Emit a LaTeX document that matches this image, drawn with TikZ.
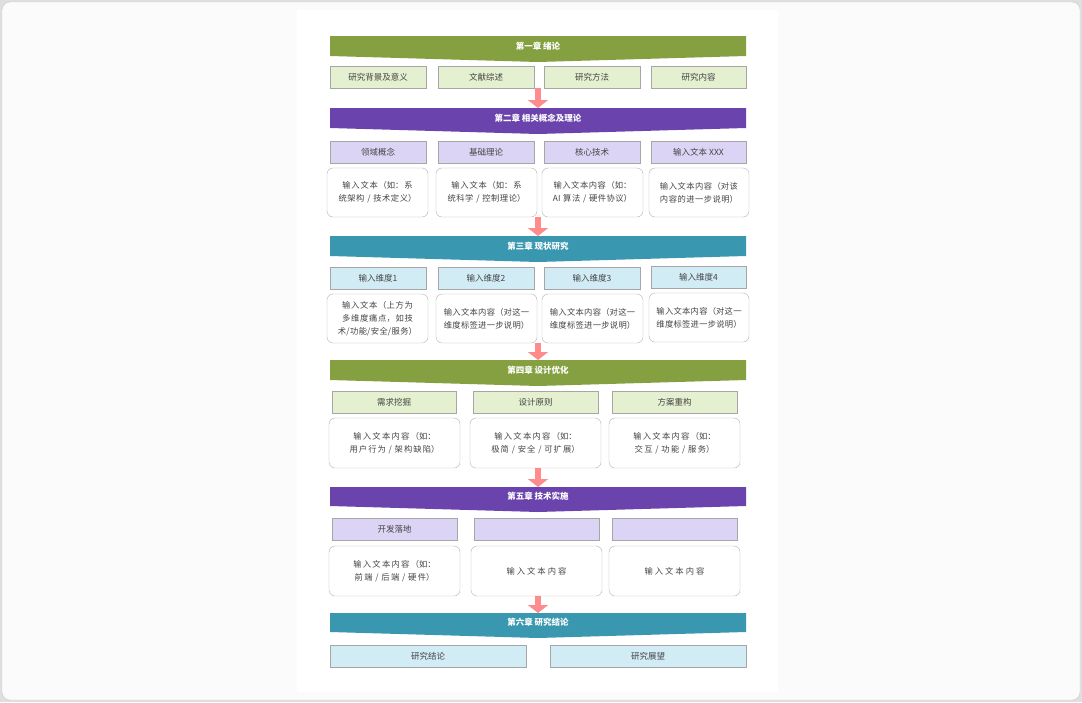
\documentclass[tikz,border=0pt]{standalone}
\usepackage{fontspec}
\setmainfont{Noto Sans CJK SC}
\XeTeXlinebreaklocale "zh"
\XeTeXlinebreakskip=0pt plus 1pt
\usetikzlibrary{arrows.meta,calc}
\definecolor{bgreen}{HTML}{84A040}
\definecolor{bpurple}{HTML}{6A43AD}
\definecolor{bteal}{HTML}{3A97B0}
\definecolor{lgreen}{HTML}{E4F0D0}
\definecolor{lpurple}{HTML}{DCD4F4}
\definecolor{lblue}{HTML}{D2ECF6}
\definecolor{txt}{HTML}{444444}
\tikzset{
  hdbox/.style={draw=gray!70, line width=0.8pt, inner sep=0pt, text=txt, font=\fontsize{8.5}{10}\selectfont},
  txbox/.style={draw=gray!60, rounded corners=6pt, inner sep=2pt, text=txt, align=center, font=\fontsize{8.3}{13}\selectfont},
  fatarrow/.style={draw=red!45, line width=6pt, -{Triangle[width=20pt,length=8pt]}}
}
% banner: name, top y, bottom y, colour, title
\newcommand{\chapban}[5]{%
  \fill[#4] (330,#2) -- (746,#2) -- (746,#3-6) -- (538,#3) -- (330,#3-6) -- cycle;
  \node[text=white, font=\bfseries\fontsize{8.5}{10}\selectfont] (#1) at (538,{(#2+#3-6)/2}) {#5};
  \coordinate (#1t) at (538,#2);
}
% header box: name, x1, x2, y1, y2, fill, text
\newcommand{\hd}[7]{\node[hdbox, fill=#6, minimum width={(#3-#2)*1pt}, minimum height={(#5-#4)*1pt}] (#1) at ({(#2+#3)/2},{(#4+#5)/2}) {#7};}
\newcommand{\tb}[7]{\node[txbox, fill=#6, minimum width={(#3-#2)*1pt}, minimum height={(#5-#4)*1pt}, text width={(#3-#2-6)*1pt}] (#1) at ({(#2+#3)/2},{(#4+#5)/2}) {#7};}
\begin{document}
\begin{tikzpicture}[x=1pt,y=-1pt]
\useasboundingbox (0,0) rectangle (1082,702);
\fill[gray!25] (0,0) rectangle (1082,702);
\fill[white!97!gray, draw=gray!40, rounded corners=8pt] (2,2) rectangle (1080,700);
\fill[white] (297,10) rectangle (778,692);

% chapter one
\chapban{ban1}{36}{62}{bgreen}{第一章 绪论}
\hd{a1}{330}{426}{66}{88}{lgreen}{研究背景及意义}
\hd{a2}{438}{534}{66}{88}{lgreen}{文献综述}
\hd{a3}{544}{640}{66}{88}{lgreen}{研究方法}
\hd{a4}{651}{746}{66}{88}{lgreen}{研究内容}

% chapter two
\chapban{ban2}{108}{134}{bpurple}{第二章 相关概念及理论}
\hd{b1}{330}{426}{141}{163}{lpurple}{领域概念}
\hd{b2}{438}{534}{141}{163}{lpurple}{基础理论}
\hd{b3}{544}{640}{141}{163}{lpurple}{核心技术}
\hd{b4}{651}{746}{141}{163}{lpurple}{输入文本 XXX}
\tb{bt1}{327}{428}{168}{217}{white}{输入文本（如：系统架构 / 技术定义）}
\tb{bt2}{436}{537}{168}{217}{white}{输入文本（如：系统科学 / 控制理论）}
\tb{bt3}{542}{643}{168}{217}{white}{输入文本内容（如：AI 算法 / 硬件协议）}
\tb{bt4}{649}{749}{168}{217}{white}{输入文本内容（对该内容的进一步说明）}

% chapter three
\chapban{ban3}{236}{262}{bteal}{第三章 现状研究}
\hd{c1}{330}{426}{267}{289}{lblue}{输入维度1}
\hd{c2}{438}{534}{267}{289}{lblue}{输入维度2}
\hd{c3}{544}{640}{267}{289}{lblue}{输入维度3}
\hd{c4}{651}{746}{266}{288}{lblue}{输入维度4}
\tb{ct1}{327}{428}{294}{343}{white}{输入文本（上方为多维度痛点，如技术/功能/安全/服务）}
\tb{ct2}{436}{537}{294}{343}{white}{输入文本内容（对这一维度标签进一步说明）}
\tb{ct3}{542}{643}{294}{343}{white}{输入文本内容（对这一维度标签进一步说明）}
\tb{ct4}{649}{749}{293}{342}{white}{输入文本内容（对这一维度标签进一步说明）}

% chapter four
\chapban{ban4}{360}{386}{bgreen}{第四章 设计优化}
\hd{d1}{332}{456}{391}{413}{lgreen}{需求挖掘}
\hd{d2}{473}{598}{391}{413}{lgreen}{设计原则}
\hd{d3}{612}{737}{391}{413}{lgreen}{方案重构}
\tb{dt1}{329}{460}{418}{468}{white}{输入文本内容（如：用户行为 / 架构缺陷）}
\tb{dt2}{470}{601}{418}{468}{white}{输入文本内容（如：极简 / 安全 / 可扩展）}
\tb{dt3}{609}{740}{418}{468}{white}{输入文本内容（如：交互 / 功能 / 服务）}

% chapter five
\chapban{ban5}{487}{512}{bpurple}{第五章 技术实施}
\hd{e1}{332}{457}{518}{540}{lpurple}{开发落地}
\hd{e2}{474}{599}{518}{540}{lpurple}{}
\hd{e3}{612}{737}{518}{540}{lpurple}{}
\tb{et1}{329}{460}{546}{596}{white}{输入文本内容（如：前端 / 后端 / 硬件）}
\tb{et2}{471}{602}{546}{596}{white}{输入文本内容}
\tb{et3}{609}{740}{546}{596}{white}{输入文本内容}

% chapter six
\chapban{ban6}{613}{638}{bteal}{第六章 研究结论}
\hd{f1}{330}{526}{645}{667}{lblue}{研究结论}
\hd{f2}{550}{746}{645}{667}{lblue}{研究展望}

% arrows
\draw[fatarrow] (ban1t |- a2.south) -- (ban2t);
\draw[fatarrow] (ban2t |- bt2.south) -- (ban3t);
\draw[fatarrow] (ban3t |- ct2.south) -- (ban4t);
\draw[fatarrow] (ban4t |- dt2.south) -- (ban5t);
\draw[fatarrow] (ban5t |- et2.south) -- (ban6t);
\end{tikzpicture}
\end{document}
